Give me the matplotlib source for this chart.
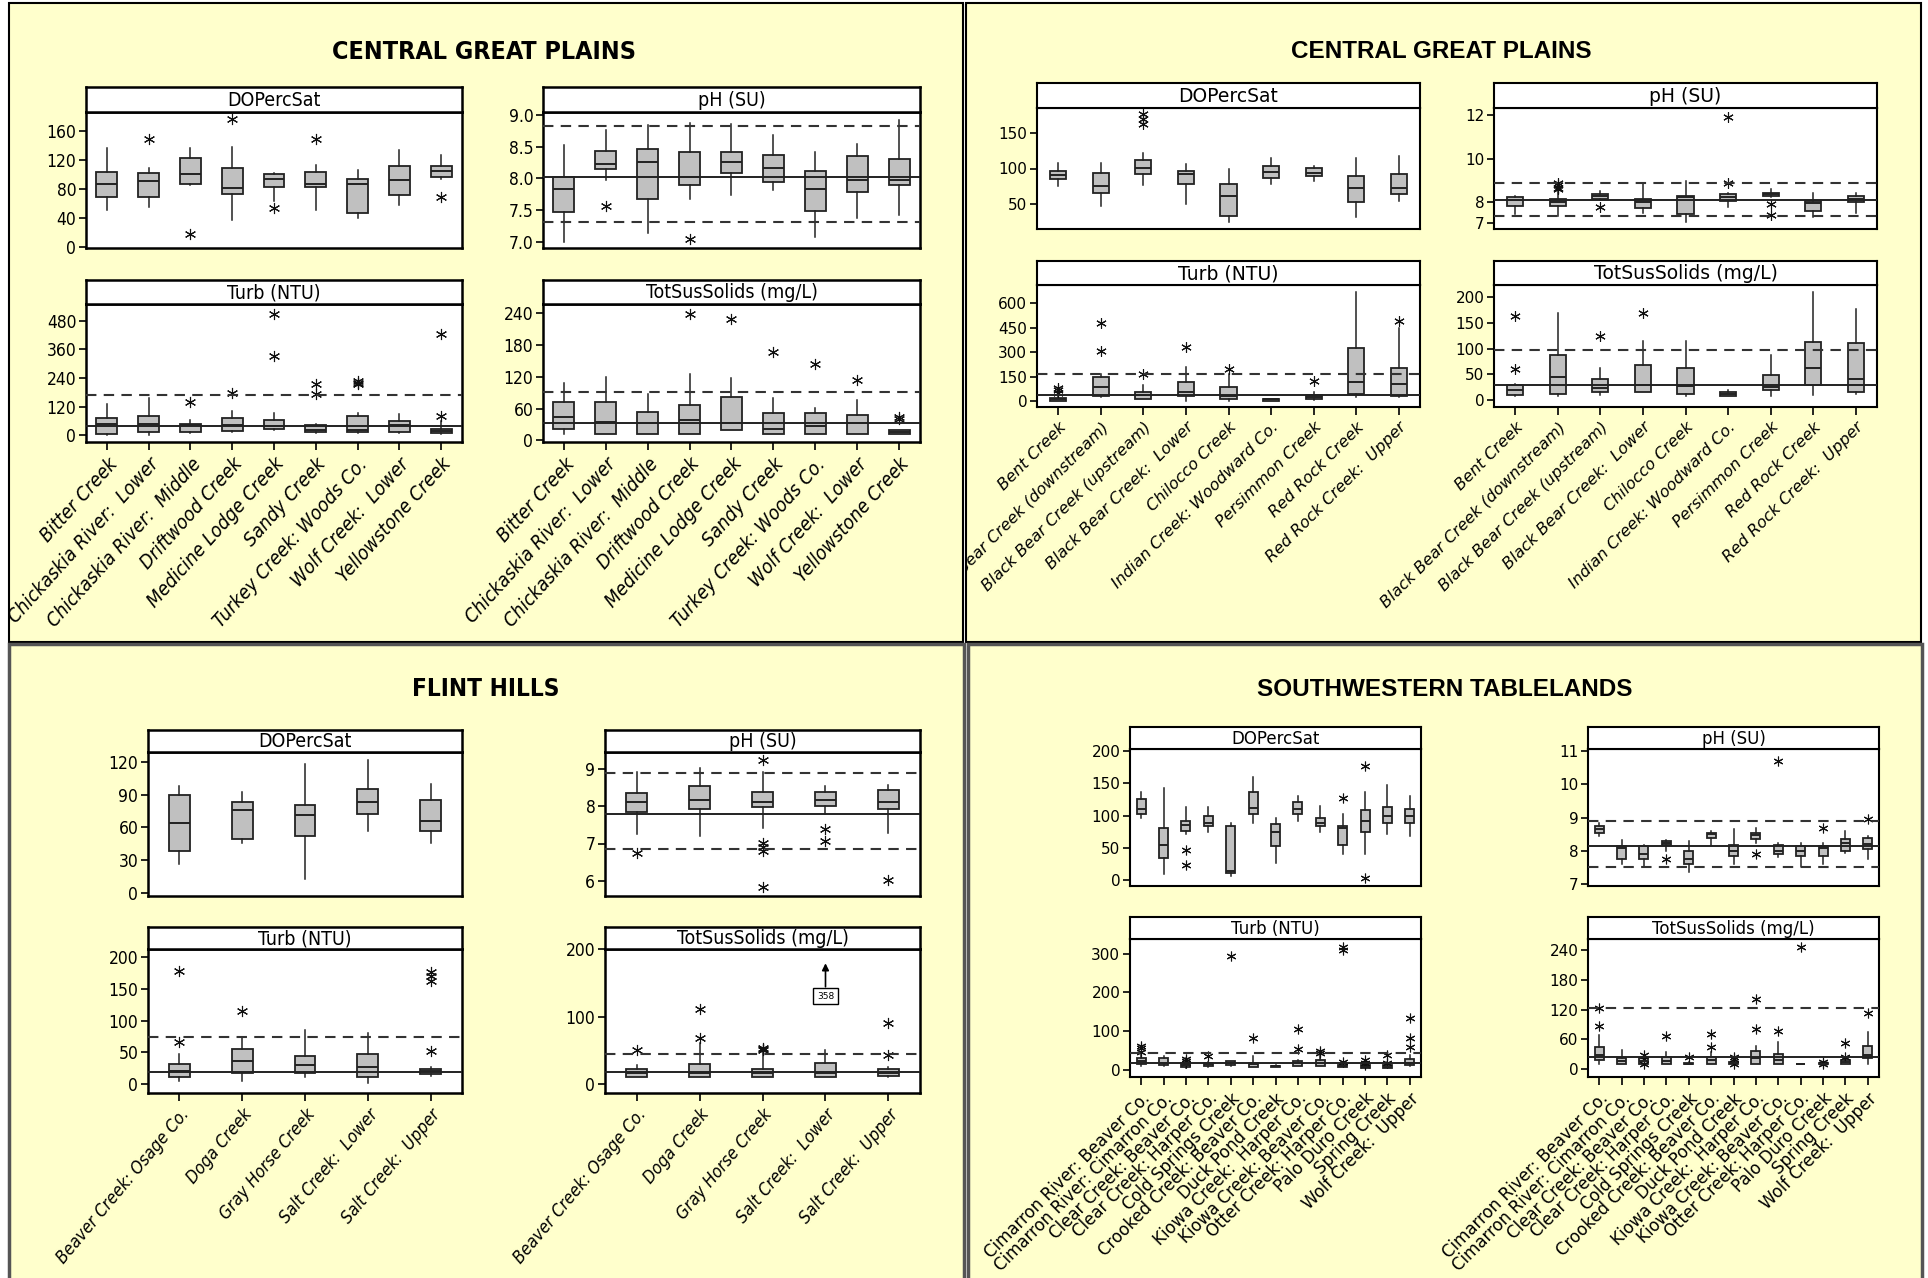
import matplotlib
matplotlib.use("Agg")
import matplotlib.pyplot as plt
from matplotlib.patches import Rectangle
from matplotlib.transforms import Bbox, TransformedBbox

# ---------------- data ----------------
titles = ["CENTRAL GREAT PLAINS", "CENTRAL GREAT PLAINS", "FLINT HILLS", "SOUTHWESTERN TABLELANDS"]
headers = ["DOPercSat", "pH (SU)", "Turb (NTU)", "TotSusSolids (mg/L)"]

cgp1_sites = ["Bitter Creek", "Chickaskia River:  Lower", "Chickaskia River:  Middle", "Driftwood Creek",
              "Medicine Lodge Creek", "Sandy Creek", "Turkey Creek: Woods Co.", "Wolf Creek:  Lower",
              "Yellowstone Creek"]
cgp2_sites = ["Bent Creek", "Black Bear Creek (downstream)", "Black Bear Creek (upstream)",
              "Black Bear Creek:  Lower", "Chilocco Creek", "Indian Creek: Woodward Co.",
              "Persimmon Creek", "Red Rock Creek", "Red Rock Creek:  Upper"]
fh_sites = ["Beaver Creek: Osage Co.", "Doga Creek", "Gray Horse Creek", "Salt Creek:  Lower", "Salt Creek:  Upper"]
swt_sites = ["Cimarron River: Beaver Co.", "Cimarron River: Cimarron Co.", "Clear Creek: Beaver Co.",
             "Clear Creek: Harper Co.", "Cold Springs Creek", "Crooked Creek: Beaver Co.", "Duck Pond Creek",
             "Kiowa Creek:  Harper Co.", "Kiowa Creek: Beaver Co.", "Otter Creek: Harper Co.",
             "Palo Duro Creek", "Spring Creek", "Wolf Creek:  Upper"]

# boxes: (low whisker, q1, median, q3, high whisker); outliers per site
cgp1_do = [(51, 69, 86, 103, 136), (55, 69, 90, 102, 109), (85, 87, 100, 122, 136), (37, 72, 81, 109, 138),
           (63, 82, 93, 100, 102), (51, 82, 87, 103, 113), (40, 46, 86, 94, 106), (57, 71, 92, 111, 133),
           (93, 96, 104, 111, 127)]
cgp1_do_out = [[], [148], [17], [176], [53], [148], [], [], [69]]
cgp1_ph = [(6.99, 7.47, 7.83, 8.03, 8.53), (7.97, 8.15, 8.23, 8.44, 8.76), (7.13, 7.68, 8.26, 8.47, 8.84),
           (7.68, 7.9, 8.03, 8.42, 8.88), (7.74, 8.08, 8.26, 8.42, 8.86), (7.81, 7.94, 8.16, 8.37, 8.68),
           (7.08, 7.49, 7.83, 8.12, 8.42), (7.37, 7.78, 7.97, 8.35, 8.54), (7.42, 7.89, 7.97, 8.31, 8.92)]
cgp1_ph_out = [[], [7.56], [], [7.05], [], [], [], [], []]
cgp1_turb = [(0, 7, 49, 74, 129), (0, 14, 46, 81, 154), (11, 14, 41, 49, 63), (14, 18, 45, 74, 101),
             (21, 28, 38, 66, 94), (8, 14, 24, 42, 49), (8, 14, 24, 81, 94), (8, 14, 41, 59, 87),
             (6, 8, 18, 28, 59)]
cgp1_turb_out = [[], [], [140], [175], [333, 508], [172, 214], [215, 220, 225], [], [80, 424]]
cgp1_tss = [(13, 22, 45, 73, 109), (13, 13, 35, 73, 120), (13, 13, 32, 54, 88), (13, 13, 38, 66, 126),
            (19, 19, 33, 82, 117), (13, 13, 22, 52, 79), (13, 13, 27, 52, 62), (13, 13, 33, 47, 76),
            (13, 13, 16, 19, 20)]
cgp1_tss_out = [[], [], [], [239], [229], [167], [144], [114], [41, 44]]

cgp2_do = [(75, 85, 91, 97, 108), (48, 66, 76, 94, 108), (77, 92, 101, 112, 122), (50, 78, 92, 97, 106),
           (25, 33, 62, 78, 99), (78, 87, 95, 104, 115), (83, 89, 94, 101, 103), (32, 53, 72, 89, 115),
           (54, 64, 73, 92, 118)]
cgp2_do_out = [[], [], [163, 170, 177], [], [], [], [], [], []]
cgp2_ph = [(7.43, 7.82, 8.08, 8.22, 8.26), (7.35, 7.82, 8.0, 8.14, 8.5), (8.08, 8.12, 8.26, 8.35, 8.49),
           (7.49, 7.72, 8.0, 8.14, 8.82), (7.05, 7.43, 8.23, 8.28, 8.97), (7.74, 8.03, 8.23, 8.37, 8.42),
           (8.2, 8.26, 8.34, 8.42, 8.57), (7.31, 7.58, 7.95, 8.03, 8.42), (7.49, 7.97, 8.12, 8.28, 8.42)]
cgp2_ph_out = [[], [8.57, 8.66, 8.77, 8.88], [7.74], [], [], [8.89, 11.92], [7.38, 7.88], [], []]
cgp2_turb = [(0, 0, 10, 18, 35), (25, 31, 86, 148, 164), (10, 14, 35, 55, 97), (0, 31, 55, 117, 210),
             (0, 14, 31, 86, 164), (0, 0, 10, 14, 14), (4, 14, 25, 35, 55), (25, 45, 117, 323, 672),
             (25, 31, 107, 203, 446)]
cgp2_turb_out = [[49, 66, 80], [306, 481], [168], [329], [199], [], [121], [], [491]]
cgp2_tss = [(8, 10, 19, 29, 32), (8, 13, 46, 87, 168), (10, 16, 23, 42, 63), (16, 16, 29, 68, 114),
            (8, 13, 27, 63, 114), (8, 8, 12, 16, 19), (8, 19, 26, 48, 87), (10, 29, 63, 113, 210),
            (13, 16, 42, 110, 177)]
cgp2_tss_out = [[61, 163], [], [124], [169], [], [], [], [], []]

fh_do = [(26, 38, 64, 90, 98), (46, 49, 76, 83, 92), (13, 52, 71, 80, 118), (57, 72, 83, 95, 122),
         (46, 57, 66, 85, 100)]
fh_do_out = [[], [], [], [], []]
fh_ph = [(7.25, 7.84, 8.11, 8.35, 8.9), (7.19, 7.92, 8.16, 8.53, 9.02), (7.42, 7.97, 8.11, 8.37, 8.9),
         (7.79, 8.0, 8.16, 8.37, 8.53), (7.29, 7.92, 8.11, 8.42, 8.57)]
fh_ph_out = [[6.75], [], [5.84, 6.81, 6.91, 7.02, 9.24], [7.07, 7.38], [6.04]]
fh_turb = [(5, 11, 21, 32, 47), (5, 18, 37, 56, 74), (11, 18, 30, 45, 85), (2, 11, 27, 47, 80),
           (13, 16, 21, 24, 27)]
fh_turb_out = [[67, 179], [116], [], [], [52, 162, 170, 176]]
fh_tss = [(10, 10, 17, 23, 28), (10, 10, 17, 30, 61), (10, 10, 16, 23, 53), (10, 10, 16, 32, 50),
          (10, 12, 16, 23, 26)]
fh_tss_out = [[51], [69, 111], [51, 52, 54], [], [43, 91]]
fh_tss_offscale = (4, 358)  # site position, value beyond the axis

swt_do = [(96, 102, 110, 126, 136), (9, 35, 55, 80, 143), (71, 76, 85, 92, 113), (74, 84, 89, 100, 113),
          (7, 11, 14, 84, 89), (89, 102, 112, 136, 160), (27, 53, 74, 87, 97), (92, 102, 110, 121, 130),
          (74, 84, 89, 97, 115), (40, 55, 80, 84, 102), (40, 74, 92, 108, 136), (71, 89, 100, 114, 148),
          (68, 89, 100, 110, 130)]
swt_do_out = [[], [], [24, 47], [], [], [], [], [], [], [127], [4, 177], [], []]
swt_ph = [(8.44, 8.55, 8.67, 8.75, 8.85), (7.59, 7.75, 8.08, 8.15, 8.34), (7.55, 7.75, 7.9, 8.15, 8.19),
          (8.0, 8.17, 8.24, 8.3, 8.34), (7.35, 7.6, 7.75, 8.0, 8.3), (8.17, 8.4, 8.5, 8.55, 8.59),
          (7.59, 7.85, 8.0, 8.19, 8.65), (8.25, 8.35, 8.49, 8.55, 8.7), (7.82, 7.9, 8.0, 8.19, 8.24),
          (7.55, 7.85, 8.0, 8.15, 8.25), (7.6, 7.85, 8.1, 8.14, 8.25), (7.92, 8.0, 8.25, 8.35, 8.6),
          (7.75, 8.05, 8.2, 8.4, 8.45)]
swt_ph_out = [[], [], [], [7.74], [], [], [], [7.9], [10.7], [], [8.7], [], [8.95]]
swt_turb = [(10, 14, 22, 29, 40), (10, 11, 18, 29, 36), (5, 7, 11, 17, 29), (7, 9, 14, 18, 20),
            (10, 11, 16, 22, 23), (7, 7, 14, 18, 36), (7, 7, 9, 10, 11), (10, 10, 16, 22, 24),
            (10, 10, 16, 24, 40), (7, 7, 10, 11, 16), (3, 4, 7, 11, 14), (3, 4, 7, 11, 20),
            (10, 11, 18, 27, 37)]
swt_turb_out = [[46, 55, 62], [], [18, 23, 27], [35], [295], [82], [], [53, 104], [44, 49],
                [20, 310, 317], [11, 17, 24], [16, 37], [59, 81, 134]]
swt_tss = [(10, 18, 28, 45, 69), (11, 11, 17, 22, 39), (11, 11, 17, 22, 25), (11, 11, 17, 24, 35),
           (11, 11, 11, 13, 15), (11, 11, 18, 25, 35), (11, 11, 13, 15, 18), (11, 11, 22, 37, 47),
           (11, 11, 18, 30, 54), (10, 10, 11, 11, 11), (10, 10, 11, 12, 12), (11, 11, 15, 18, 22),
           (11, 22, 28, 47, 74)]
swt_tss_out = [[87, 123], [], [11, 20, 28], [67], [25], [45, 71], [11, 20, 25], [81, 141], [78], [246],
               [10, 15], [25, 53], [114]]

# reference lines: solid (median-type) and dashed (criteria)
cgp1_ph_ref, cgp1_ph_crit = 8.03, [8.83, 7.31]
cgp1_turb_ref, cgp1_turb_crit = 38, [168]
cgp1_tss_ref, cgp1_tss_crit = 32, [92]
cgp2_ph_ref, cgp2_ph_crit = 8.1, [8.88, 7.35]
cgp2_turb_ref, cgp2_turb_crit = 35, [168]
cgp2_tss_ref, cgp2_tss_crit = 29, [97]
fh_ph_ref, fh_ph_crit = 7.79, [8.87, 6.86]
fh_turb_ref, fh_turb_crit = 18.5, [74]
fh_tss_ref, fh_tss_crit = 18, [45]
swt_ph_ref, swt_ph_crit = 8.15, [8.9, 7.5]
swt_turb_ref, swt_turb_crit = 17, [44]
swt_tss_ref, swt_tss_crit = 24, [124]

# axis ranges and ticks
cgp1_lims = [(-2, 186), (6.9, 9.05), (-28, 549), (-3, 257)]
cgp1_ticks = [[0, 40, 80, 120, 160], [7.0, 7.5, 8.0, 8.5, 9.0], [0, 120, 240, 360, 480], [0, 60, 120, 180, 240]]
cgp2_lims = [(15, 185), (6.74, 12.34), (-37, 713), (-13, 223)]
cgp2_ticks = [[50, 100, 150], [7, 8, 10, 12], [0, 150, 300, 450, 600], [0, 50, 100, 150, 200]]
fh_lims = [(-3, 129), (5.6, 9.44), (-14, 213), (-13, 200)]
fh_ticks = [[0, 30, 60, 90, 120], [6, 7, 8, 9], [0, 50, 100, 150, 200], [0, 100, 200]]
swt_lims = [(-9, 203), (6.94, 11.07), (-19, 338), (-16, 263)]
swt_ticks = [[0, 50, 100, 150, 200], [7, 8, 9, 10, 11], [0, 100, 200, 300], [0, 60, 120, 180, 240]]

# ---------------- layout (pixels) ----------------
W, H = 1928, 1278
SANS = ["DejaVu Sans"]
ARIAL = ["Liberation Sans", "DejaVu Sans"]

fig = plt.figure(figsize=(W / 100, H / 100), dpi=100, facecolor="white")


def frac(x0, y0, x1, y1):
    return [x0 / W, 1 - y1 / H, (x1 - x0) / W, (y1 - y0) / H]


def quadrant(x0, y0, x1, y1, edge, lw):
    fig.add_artist(Rectangle((x0 / W, 1 - y1 / H), (x1 - x0) / W, (y1 - y0) / H,
                             transform=fig.transFigure, facecolor="#FFFFCC", edgecolor=edge,
                             linewidth=lw, zorder=-5))
    return TransformedBbox(Bbox.from_extents(x0 / W, 1 - y1 / H, x1 / W, 1 - y0 / H), fig.transFigure)


def panel(rect, header, boxes, outliers, ylim, yticks, sty, solid=None, dashed=(), sites=None, clip=None):
    x0, x1, ht, hb, pb = rect
    font = dict(family=sty["font"], fontstretch=sty["stretch"])
    ax = fig.add_axes(frac(x0, hb, x1, pb))
    hx = fig.add_axes(frac(x0, ht, x1, hb))
    hx.set_xticks([])
    hx.set_yticks([])
    hx.text(0.5, 0.47, header, ha="center", va="center", fontsize=sty["head_fs"],
            transform=hx.transAxes, **font)
    for s in hx.spines.values():
        s.set_linewidth(sty["lw"])

    stats = [dict(whislo=b[0], q1=b[1], med=b[2], q3=b[3], whishi=b[4], fliers=o)
             for b, o in zip(boxes, outliers)]
    n = len(stats)
    pos = list(range(1, n + 1))
    ax.bxp(stats, positions=pos, widths=sty["width"], patch_artist=True, showcaps=False,
           boxprops=dict(facecolor="#c0c0c0", edgecolor="#222222", linewidth=1.3),
           medianprops=dict(color="#222222", linewidth=1.4),
           whiskerprops=dict(color="#222222", linewidth=1.1),
           flierprops=dict(marker=(6, 2, 0), markersize=sty["ms"], markeredgecolor="#111111",
                           markeredgewidth=0.8, linestyle="none"))
    if solid is not None:
        ax.axhline(solid, color="#222222", lw=1.4, zorder=3)
    for d in dashed:
        ax.axhline(d, color="#333333", lw=1.5, ls=(0, (5, 3.5)), zorder=3)
    ax.set_xlim(0.5, n + 0.5)
    ax.set_ylim(*ylim)
    ax.set_yticks(yticks)
    fmt = "%.1f" if any(t % 1 for t in yticks) else "%d"
    ax.set_yticklabels([fmt % t for t in yticks], fontsize=sty["tick_fs"], **font)
    ax.tick_params(axis="y", direction="out", length=5, width=1.2, pad=2)
    if sites is None:
        ax.set_xticks([])
    else:
        ax.set_xticks(pos)
        ax.set_xticklabels(sites, rotation=sty["rot"], ha="right", rotation_mode="anchor",
                           fontsize=sty["lab_fs"], style=sty["lab_style"], **font)
        ax.tick_params(axis="x", direction="out", length=6, width=1.2, pad=3)
        for lbl in ax.get_xticklabels():
            lbl.set_clip_box(clip)
            lbl.set_clip_on(True)
    for s in ax.spines.values():
        s.set_linewidth(sty["lw"])
    return ax


sty_narrow = dict(font=SANS, stretch="condensed", tick_fs=12.5, head_fs=14, lab_fs=14, rot=48,
                  lab_style="italic", lw=1.8, ms=8)
sty_sans = dict(font=SANS, stretch="normal", tick_fs=11, head_fs=13.5, lab_fs=11.5, rot=45,
                lab_style="italic", lw=1.5, ms=7.5)

quads = [
    dict(name="cgp1", box=(9, 3, 963, 642), edge="black", lw=1.5, title_xy=(484, 52),
         title_font=SANS, title_stretch="condensed", title_fs=18,
         cols=[(86, 462), (543, 920)], rows=[(87, 112, 248), (280, 304, 442)],
         sty=dict(sty_narrow, width=0.5)),
    dict(name="cgp2", box=(966, 3, 1921, 642), edge="black", lw=1.5, title_xy=(1441, 52),
         title_font=ARIAL, title_stretch="normal", title_fs=17.5,
         cols=[(1037, 1420), (1494, 1877)], rows=[(83, 108, 229), (261, 285, 407)],
         sty=dict(sty_sans, width=0.38)),
    dict(name="fh", box=(9, 644, 964, 1290), edge="#555555", lw=2.5, title_xy=(486, 689),
         title_font=SANS, title_stretch="condensed", title_fs=17.5,
         cols=[(148, 462), (605, 920)], rows=[(730, 752, 896), (927, 949, 1093)],
         sty=dict(sty_narrow, width=0.33, lab_fs=12.5, rot=50)),
    dict(name="swt", box=(968, 644, 1922, 1290), edge="#555555", lw=2.5, title_xy=(1445, 689),
         title_font=ARIAL, title_stretch="normal", title_fs=17.5,
         cols=[(1130, 1421), (1588, 1879)], rows=[(727, 749, 886), (917, 939, 1077)],
         sty=dict(sty_sans, width=0.4, head_fs=12, lab_fs=12, lab_style="normal", ms=7)),
]

g = globals()
panels = {}
for q, title in zip(quads, titles):
    p = q["name"]
    clip = quadrant(*q["box"], q["edge"], q["lw"])
    fig.text(q["title_xy"][0] / W, 1 - q["title_xy"][1] / H, title, ha="center", va="center",
             fontsize=q["title_fs"], fontweight="bold", family=q["title_font"],
             fontstretch=q["title_stretch"])
    for i, k in enumerate(["do", "ph", "turb", "tss"]):
        r, c = divmod(i, 2)
        ht, hb, pb = q["rows"][r]
        x0, x1 = q["cols"][c]
        panels[(p, k)] = panel((x0, x1, ht, hb, pb), headers[i], g[p + "_" + k], g[p + "_" + k + "_out"],
                               g[p + "_lims"][i], g[p + "_ticks"][i], q["sty"],
                               solid=g.get(p + "_" + k + "_ref"), dashed=g.get(p + "_" + k + "_crit", ()),
                               sites=g[p + "_sites"] if r == 1 else None, clip=clip)

# off-scale value marker in the Flint Hills TSS panel
tss_ax = panels[("fh", "tss")]
site_pos, val = fh_tss_offscale
tss_ax.annotate("", xy=(site_pos, 183), xytext=(site_pos, 140),
                arrowprops=dict(arrowstyle="-|>", color="black", lw=1.2, mutation_scale=10))
tss_ax.text(site_pos, 130, str(val), ha="center", va="center", fontsize=6.5, family=SANS,
            bbox=dict(boxstyle="square,pad=0.4", facecolor="white", edgecolor="black", lw=1))

fig.savefig("out.png", dpi=100, facecolor="white")
